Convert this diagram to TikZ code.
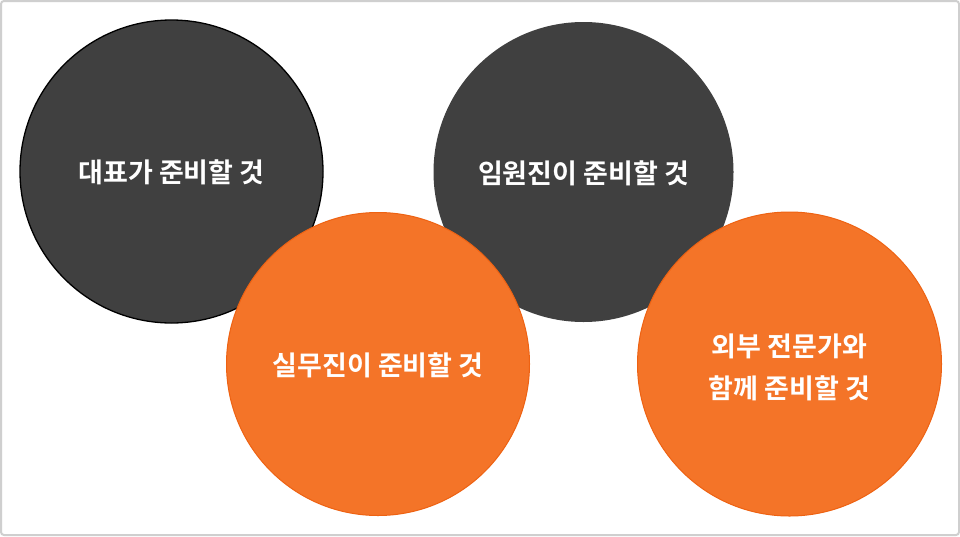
\documentclass[tikz,border=0pt]{standalone}
\usepackage{fontspec}
\newfontfamily\kr{Noto Sans CJK KR Bold}
\definecolor{darkc}{HTML}{404040}
\definecolor{orangec}{HTML}{F47428}
\definecolor{orangeedge}{HTML}{EE6212}
\definecolor{framec}{HTML}{CFCFCF}
\begin{document}
\begin{tikzpicture}[x=1pt,y=-1pt,
  darkcircle/.style={circle,fill=darkc,inner sep=0pt},
  orangecircle/.style={circle,fill=orangec,draw=orangeedge,line width=1pt,inner sep=0pt},
  lbl/.style={text=white,font=\kr\fontsize{27}{42}\selectfont,align=center}]
\useasboundingbox (0,0) rectangle (960,536);
\fill[white] (0,0) rectangle (960,536);
\draw[framec,line width=2pt,rounded corners=3pt] (1,1) rectangle (959,535);
\node[darkcircle,draw=black,line width=1.3pt,minimum size=303pt] (c1) at (171.5,171.5) {};
\node[darkcircle,minimum size=300pt] (c3) at (583.5,172) {};
\node[orangecircle,minimum size=303pt] (c2) at (378,364) {};
\node[orangecircle,minimum size=304pt] (c4) at (789.5,364) {};
\node[lbl] (t1) at ([yshift=-1pt]c1.center) {대표가 준비할 것};
\node[lbl] (t3) at ([yshift=-1pt]c3.center) {임원진이 준비할 것};
\node[lbl] (t2) at ([yshift=-1pt]c2.center) {실무진이 준비할 것};
\node[lbl] (t4) at ([yshift=-3pt]c4.center) {외부 전문가와\\함께 준비할 것};
\end{tikzpicture}
\end{document}
